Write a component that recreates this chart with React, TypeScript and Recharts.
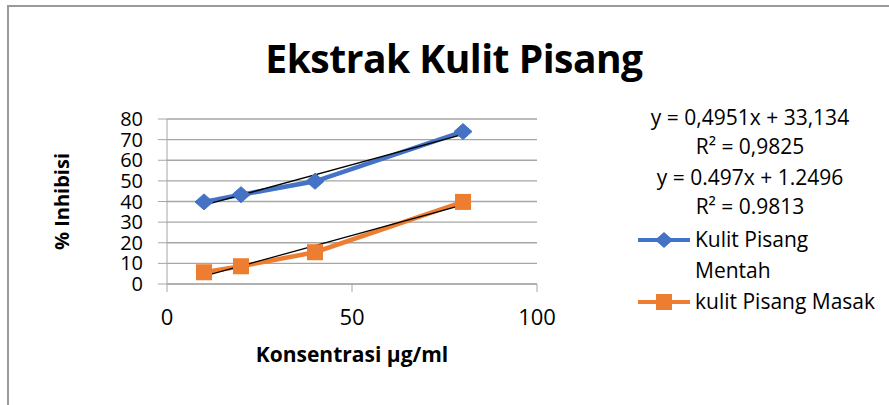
import React from "react";
import {
  CartesianGrid,
  Label,
  Line,
  LineChart,
  XAxis,
  YAxis,
} from "recharts";

const konsentrasi = [10, 20, 40, 80];
const mentah = [39.8, 43.3, 49.8, 73.9];
const masak = [5.7, 8.6, 15.4, 39.8];

const xTicks = [0, 50, 100];
const yTicks = [0, 10, 20, 30, 40, 50, 60, 70, 80];

const equations = [
  "y = 0,4951x + 33,134",
  "R² = 0,9825",
  "y = 0.497x + 1.2496",
  "R² = 0.9813",
];

const BLUE = "#4472C4";
const ORANGE = "#ED7D31";
const GRID = "#a6a6a6";
const FONT = "'Open Sans', sans-serif";

const data = konsentrasi.map((x, i) => ({ x, mentah: mentah[i], masak: masak[i] }));

// linear trendline (least squares), drawn between first and last x
const fitLine = (xs: number[], ys: number[]) => {
  const n = xs.length;
  const mx = xs.reduce((a, b) => a + b, 0) / n;
  const my = ys.reduce((a, b) => a + b, 0) / n;
  let sxy = 0;
  let sxx = 0;
  xs.forEach((x, i) => {
    sxy += (x - mx) * (ys[i] - my);
    sxx += (x - mx) * (x - mx);
  });
  const slope = sxy / sxx;
  const icpt = my - slope * mx;
  const ends = [xs[0], xs[n - 1]];
  return ends.map((x) => ({ x, y: slope * x + icpt }));
};

const trendMentah = fitLine(konsentrasi, mentah);
const trendMasak = fitLine(konsentrasi, masak);

const Diamond = (props: any) => {
  const { cx, cy } = props;
  if (cx == null || cy == null) return null;
  return (
    <path
      d={`M${cx},${cy - 8} L${cx + 9},${cy} L${cx},${cy + 8} L${cx - 9},${cy} Z`}
      fill={BLUE}
      stroke={BLUE}
    />
  );
};

const Square = (props: any) => {
  const { cx, cy } = props;
  if (cx == null || cy == null) return null;
  return <rect x={cx - 8} y={cy - 8} width={16} height={16} fill={ORANGE} />;
};

const LegendBox = () => (
  <div style={{ fontFamily: FONT, fontSize: 21, color: "#000", lineHeight: "31px" }}>
    <div style={{ width: 236, textAlign: "center" }}>
      {equations.map((t, i) => (
        <div key={i} style={{ height: i % 2 === 0 ? 29 : 31 }}>{t}</div>
      ))}
    </div>
    <div style={{ display: "flex", alignItems: "flex-start", marginTop: 2 }}>
      <svg width={58} height={31} style={{ flexShrink: 0 }}>
        <line x1={6} y1={16} x2={58} y2={16} stroke={BLUE} strokeWidth={4} />
        <path d="M32,8 L41,16 L32,24 L23,16 Z" fill={BLUE} />
      </svg>
      <div style={{ marginLeft: 5 }}>
        Kulit Pisang
        <br />
        Mentah
      </div>
    </div>
    <div style={{ display: "flex", alignItems: "flex-start", whiteSpace: "nowrap" }}>
      <svg width={58} height={31} style={{ flexShrink: 0 }}>
        <line x1={6} y1={16} x2={58} y2={16} stroke={ORANGE} strokeWidth={4} />
        <rect x={24} y={8} width={16} height={16} fill={ORANGE} />
      </svg>
      <div style={{ marginLeft: 5 }}>kulit Pisang Masak</div>
    </div>
  </div>
);

export default function App() {
  return (
    <div
      style={{
        position: "absolute",
        left: 0,
        top: 0,
        width: 889,
        height: 405,
        overflow: "hidden",
        background: "#fff",
      }}
    >
      <div
        style={{
          position: "absolute",
          left: 7,
          top: 5,
          width: 1000,
          height: 1000,
          border: "2px solid #9a9a9a",
        }}
      />
      <div
        style={{
          position: "absolute",
          left: 0,
          width: 908,
          top: 31,
          textAlign: "center",
          fontFamily: FONT,
          fontWeight: 700,
          fontSize: 39,
          letterSpacing: -0.5,
          color: "#000",
        }}
      >
        Ekstrak Kulit Pisang
      </div>
      <LineChart
        width={889}
        height={405}
        data={data}
        margin={{ top: 119, right: 352, bottom: 81, left: 107 }}
        style={{ position: "absolute", left: 0, top: 0 }}
      >
        <CartesianGrid vertical={false} stroke={GRID} strokeWidth={1.3} />
        <XAxis
          type="number"
          dataKey="x"
          domain={[0, 100]}
          ticks={xTicks}
          height={40}
          tickSize={8}
          tickMargin={17}
          stroke={GRID}
          tick={{ fill: "#000", fontSize: 22, fontFamily: FONT }}
        >
          <Label
            value="Konsentrasi µg/ml"
            position="insideBottom"
            offset={-38}
            style={{ fill: "#000", fontSize: 21, fontWeight: 700, fontFamily: FONT }}
          />
        </XAxis>
        <YAxis
          type="number"
          domain={[0, 80]}
          ticks={yTicks}
          width={60}
          tickSize={9}
          tickMargin={15}
          stroke={GRID}
          interval={0}
          tick={{ fill: "#000", fontSize: 20, fontFamily: FONT }}
        >
          <Label
            value="% Inhibisi"
            angle={-90}
            position="insideLeft"
            offset={-45}
            style={{ fill: "#000", fontSize: 20, fontWeight: 700, fontFamily: FONT, textAnchor: "middle" }}
          />
        </YAxis>
        <Line
          dataKey="mentah"
          stroke={BLUE}
          strokeWidth={4.5}
          dot={<Diamond />}
          activeDot={false}
          isAnimationActive={false}
        />
        <Line
          dataKey="masak"
          stroke={ORANGE}
          strokeWidth={4.5}
          dot={<Square />}
          activeDot={false}
          isAnimationActive={false}
        />
        <Line
          data={trendMentah}
          dataKey="y"
          stroke="#000"
          strokeWidth={1.3}
          dot={false}
          activeDot={false}
          isAnimationActive={false}
        />
        <Line
          data={trendMasak}
          dataKey="y"
          stroke="#000"
          strokeWidth={1.3}
          dot={false}
          activeDot={false}
          isAnimationActive={false}
        />
      </LineChart>
      <div style={{ position: "absolute", left: 632, top: 102 }}>
        <LegendBox />
      </div>
    </div>
  );
}
